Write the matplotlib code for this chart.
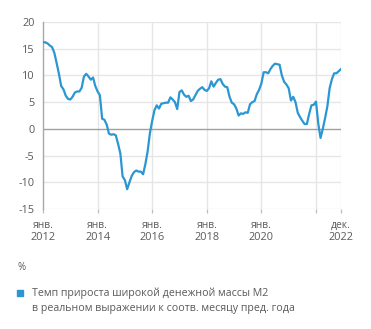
import matplotlib

matplotlib.use("Agg")
import matplotlib.pyplot as plt
import matplotlib.transforms as mtransforms
from matplotlib.patches import Rectangle
import numpy as np

plt.rcParams["font.family"] = ["Open Sans", "DejaVu Sans"]

# M2 real growth, % y/y, monthly Jan 2012 .. Dec 2022
m2_real = [
    16.2, 16.2, 16.0, 15.6, 15.3, 14.2, 12.3, 10.3, 8.0, 7.4, 6.2, 5.6,
    5.5, 6.0, 6.8, 7.0, 7.0, 7.7, 9.8, 10.3, 9.8, 9.2, 9.6, 8.0,
    7.0, 6.3, 1.9, 1.7, 0.8, -0.9, -1.1, -1.0, -1.2, -2.8, -4.6, -8.9,
    -9.6, -11.3, -10.0, -8.8, -8.1, -7.8, -8.0, -8.0, -8.5, -6.6, -4.2, -0.8,
    1.5, 3.5, 4.4, 3.8, 4.7, 4.8, 4.9, 4.9, 5.9, 5.5, 5.0, 3.7,
    6.9, 7.2, 6.4, 6.0, 6.2, 5.2, 5.5, 6.3, 7.1, 7.5, 7.8, 7.3,
    7.1, 7.6, 8.9, 7.9, 8.6, 9.2, 9.3, 8.4, 7.9, 7.8, 6.0, 4.9,
    4.6, 3.8, 2.5, 2.9, 2.8, 3.1, 3.0, 4.6, 5.0, 5.2, 6.5, 7.3,
    8.5, 10.6, 10.6, 10.4, 11.2, 11.8, 12.2, 12.1, 12.0, 10.0, 8.8, 8.3,
    7.6, 5.3, 6.0, 5.0, 3.0, 2.2, 1.5, 0.9, 0.9, 2.8, 4.4, 4.5,
    5.1, 1.0, -1.7, 0.0, 2.0, 4.2, 7.6, 9.3, 10.4, 10.4, 10.8, 11.2,
]
months = np.arange(len(m2_real))

tick_pos = [0, 24, 48, 72, 96, 120, 131]
tick_month = ["янв.", "янв.", "янв.", "янв.", "янв.", "", "дек."]
tick_year = ["2012", "2014", "2016", "2018", "2020", "", "2022"]
y_ticks = [-15, -10, -5, 0, 5, 10, 15, 20]

LINE = "#2b97d2"
GRID = "#e6e6e6"
TXT = "#5a5a5a"

fig = plt.figure(figsize=(3.71, 3.29), dpi=100)
ax = fig.add_axes([43 / 371, 1 - 209 / 329, 298 / 371, 187 / 329])

ax.set_xlim(0, 131)
ax.set_ylim(-15, 20)
ax.set_yticks(y_ticks)
ax.set_yticklabels([str(v) for v in y_ticks], fontsize=7.8, color=TXT)
ax.tick_params(axis="y", length=0, pad=6)

ax.set_xticks(tick_pos)
ax.set_xticklabels([])
ax.tick_params(axis="x", length=3, width=0.9, color="#bdbdbd")

for v in y_ticks:
    if v != 0:
        ax.axhline(v, color=GRID, lw=1.0, zorder=0)
for p in tick_pos[1:]:
    ax.axvline(p, color=GRID, lw=1.0, zorder=0)
ax.axhline(0, color="#a0a0a0", lw=1.0, zorder=1)

for s in ("top", "right", "bottom"):
    ax.spines[s].set_visible(False)
ax.spines["left"].set_color("#a8a8a8")
ax.spines["left"].set_linewidth(1.0)

ax.plot(months, m2_real, color=LINE, lw=1.6, zorder=3, solid_joinstyle="round")

# two-line x labels: month on top, year below
trans = mtransforms.blended_transform_factory(ax.transData, fig.transFigure)
for p, mo, yr in zip(tick_pos, tick_month, tick_year):
    if not yr:
        continue
    ax.text(p, 1 - 225 / 329, mo, transform=trans, ha="center", va="center",
            fontsize=7.4, color=TXT)
    ax.text(p, 1 - 238 / 329, yr, transform=trans, ha="center", va="center",
            fontsize=7.9, color=TXT)

fig.text(18 / 371, 1 - 268 / 329, "%", fontsize=7, color=TXT, va="center")
fig.patches.append(Rectangle((17 / 371, 1 - 296 / 329), 6 / 371, 6 / 329,
                             transform=fig.transFigure, color=LINE))
fig.text(32 / 371, 1 - 293 / 329, "Темп прироста широкой денежной массы М2",
         fontsize=7.65, color=TXT, va="center")
fig.text(32 / 371, 1 - 309 / 329, "в реальном выражении к соотв. месяцу пред. года",
         fontsize=7.65, color=TXT, va="center")

fig.savefig("out.png", dpi=100, facecolor="white")
